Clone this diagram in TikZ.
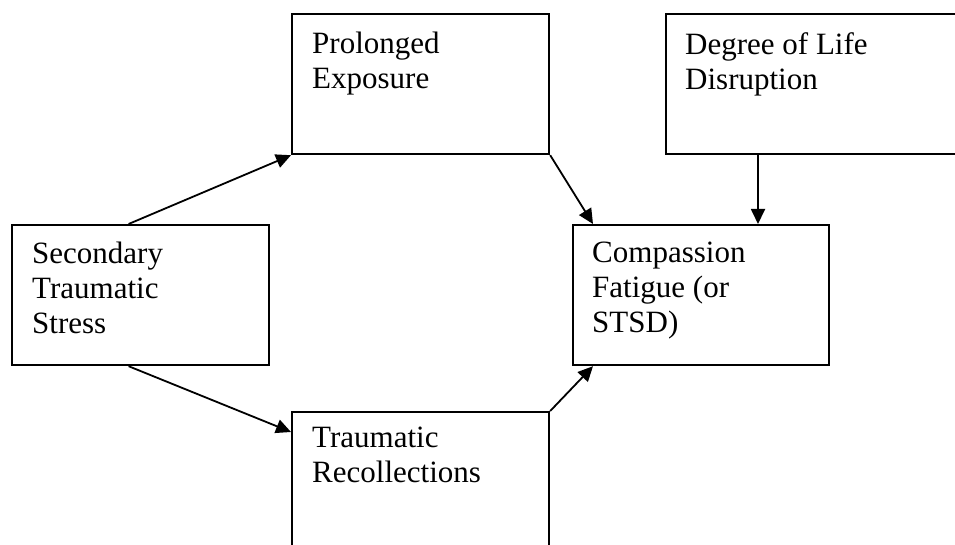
\documentclass[tikz,border=0pt]{standalone}
\usepackage{fontspec}
\setmainfont{Liberation Serif}
\usetikzlibrary{arrows.meta}

\begin{document}
\begin{tikzpicture}[x=1pt, y=-1pt, >={Triangle[length=15pt,width=14pt]},
    box/.style={draw, line width=2.2pt, anchor=north west, inner sep=0pt,
      minimum width=257pt, minimum height=140pt},
    txt/.style={anchor=north west, inner sep=0pt, align=left,
      font=\fontsize{31}{35}\selectfont},
    link/.style={->, line width=1.8pt}]
    \useasboundingbox (0,0) rectangle (955,545);
    \clip (0,0) rectangle (955,545);

    \node[box] (pe) at (291,13) {};
    \node[box, minimum width=310pt] (dl) at (665,13) {};
    \node[box] (st) at (11,224) {};
    \node[box, minimum width=256pt] (cf) at (572,224) {};
    \node[box] (tr) at (291,411) {};

    \node[txt] (pe-t) at ([shift={(21,19)}]pe.north west) {Prolonged\\Exposure};
    \node[txt] (dl-t) at ([shift={(20,19)}]dl.north west) {Degree of Life\\Disruption};
    \node[txt] (st-t) at ([shift={(21,18)}]st.north west) {Secondary\\Traumatic\\Stress};
    \node[txt] (cf-t) at ([shift={(20,18)}]cf.north west) {Compassion\\Fatigue (or\\STSD)};
    \node[txt] (tr-t) at ([shift={(21,16)}]tr.north west) {Traumatic\\Recollections};

    \draw[link] ([xshift=-12pt]st.north) -- (pe.south west);
    \draw[link] ([xshift=-12pt]st.south) -- ([yshift=-21pt]tr.north west);
    \draw[link] (pe.south east) -- ([xshift=21pt]cf.north west);
    \draw[link] ([xshift=93pt]dl.south west) -- ([xshift=93pt]dl.south west |- cf.north);
    \draw[link] (tr.north east) -- ([xshift=21pt]cf.south west);
  \end{tikzpicture}
\end{document}
